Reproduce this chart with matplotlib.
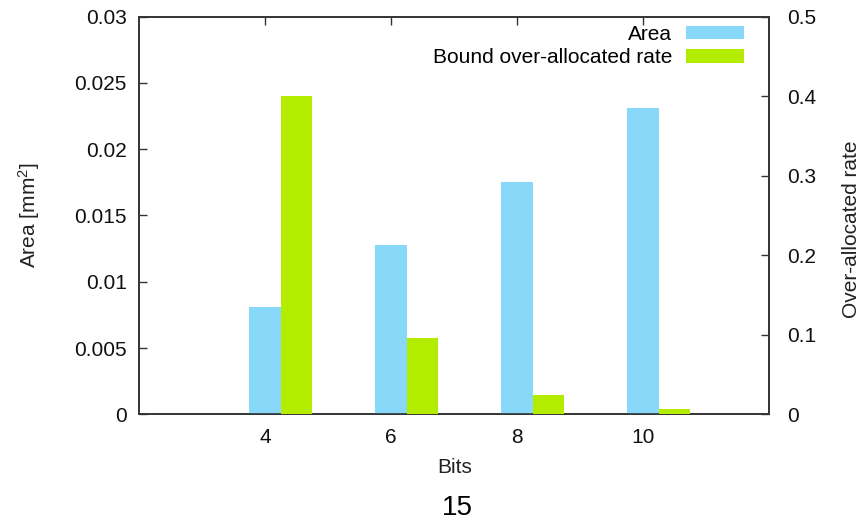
import numpy as np
import matplotlib
matplotlib.use("Agg")
import matplotlib.pyplot as plt

plt.rcParams['font.family'] = ['Liberation Sans', 'DejaVu Sans']
plt.rcParams['mathtext.fontset'] = 'custom'
plt.rcParams['mathtext.rm'] = 'Liberation Sans'
plt.rcParams['mathtext.it'] = 'Liberation Sans:italic'

# data
bits = ["4", "6", "8", "10"]
area = [0.0081, 0.0128, 0.01755, 0.0231]          # mm^2, left axis
over_rate = [0.400, 0.0963, 0.0243, 0.0067]       # right axis

left_ticks = [0, 0.005, 0.01, 0.015, 0.02, 0.025, 0.03]
left_labels = ["0", "0.005", "0.01", "0.015", "0.02", "0.025", "0.03"]
right_ticks = [0, 0.1, 0.2, 0.3, 0.4, 0.5]
right_labels = ["0", "0.1", "0.2", "0.3", "0.4", "0.5"]

c_area = "#88d8fa"
c_rate = "#b4ec00"
axcol = "#333333"

fig = plt.figure(figsize=(8.65, 5.2), dpi=100)
ax = fig.add_axes([0.1607, 0.2033, 0.7283, 0.7647])
ax2 = ax.twinx()

x = np.arange(len(bits))
w = 0.25
b1 = ax.bar(x, area, width=w, color=c_area, label="Area", zorder=3)
b2 = ax2.bar(x + w, over_rate, width=w, color=c_rate,
             label="Bound over-allocated rate", zorder=3)

ax.set_xlim(-1, 4)
ax.set_ylim(0, 0.03)
ax2.set_ylim(0, 0.5)

ax.set_xticks(x)
ax.set_xticklabels(bits)
ax.set_yticks(left_ticks)
ax.set_yticklabels(left_labels)
ax2.set_yticks(right_ticks)
ax2.set_yticklabels(right_labels)

ax.set_axisbelow(True)
ax.tick_params(axis='x', direction='in', length=6, width=1, top=True, bottom=True,
               labelsize=15, pad=10, colors=axcol, labelcolor='#111111')
ax.tick_params(axis='y', direction='in', length=6, width=1, left=True, right=False,
               labelsize=15, pad=9, colors=axcol, labelcolor='#111111')
ax2.tick_params(axis='y', direction='in', length=6, width=1, labelsize=15, pad=13,
                colors=axcol, labelcolor='#111111')

for a in (ax, ax2):
    for s in a.spines.values():
        s.set_color(axcol)
        s.set_linewidth(1.2)

ax.set_ylabel("Area [mm$^2$]", fontsize=15, color='#222222')
ax.yaxis.set_label_coords(-0.1746, 0.501)
ax.yaxis.label.set_va('center')
ax2.set_ylabel("Over-allocated rate", fontsize=15, color='#222222')
ax2.yaxis.set_label_coords(1.131, 0.466)
ax2.yaxis.label.set_va('center')
ax.set_xlabel("Bits", fontsize=15, color='#222222')
ax.xaxis.set_label_coords(0.5016, -0.135)
ax.xaxis.label.set_va('center')

ax2.legend([b1, b2], ["Area", "Bound over-allocated rate"], loc='upper right',
           bbox_to_anchor=(744 / 865, 1 - 25 / 520), bbox_transform=fig.transFigure,
           frameon=False, markerfirst=False, fontsize=15, borderpad=0,
           borderaxespad=0, handlelength=2.8, handleheight=0.62,
           handletextpad=0.65, labelspacing=0.2)

fig.text(457 / 865, 1 - 508 / 520, "15", fontsize=20, ha='center', va='center')

fig.savefig("out.png", dpi=100)
